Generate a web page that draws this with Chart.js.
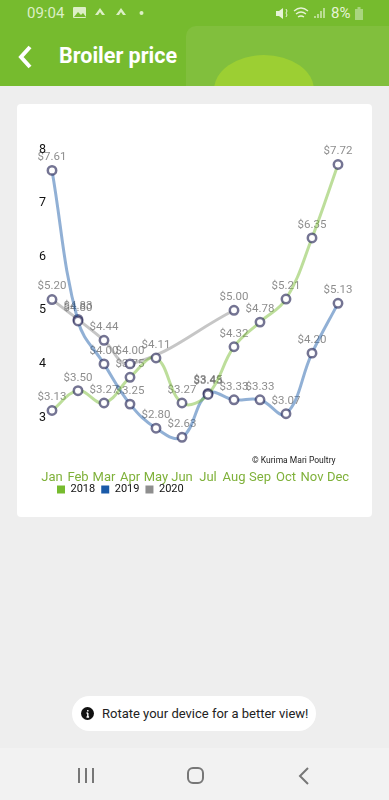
<!DOCTYPE html>
<html>
<head>
<meta charset="utf-8">
<title>Broiler price</title>
<script src="https://cdn.jsdelivr.net/npm/chart.js@4"></script>
<style>
  html, body { margin: 0; padding: 0; }
  body { width: 389px; height: 800px; background: #eeeeee; position: relative; overflow: hidden; font-family: Roboto, sans-serif; }
  #header { position: absolute; left: 0; top: 0; width: 389px; height: 86px; background: #76bb2e; overflow: hidden; }
  #panel { position: absolute; left: 186px; top: 26px; width: 240px; height: 80px; background: #81bf3d; border-top-left-radius: 10px; }
  #blob { position: absolute; left: 214px; top: 55px; width: 100px; height: 70px; border-radius: 50%; background: #9ccf33; }
  #time { position: absolute; left: 27px; top: 4px; font-size: 15px; color: #dcefc6; }
  #battery { position: absolute; left: 331px; top: 4px; font-size: 15px; color: #e6f3d6; }
  #title { position: absolute; left: 59px; top: 43px; font-size: 21.5px; font-weight: 700; color: #fff; }
  #card { position: absolute; left: 17px; top: 104px; width: 355px; height: 413px; background: #fff; border-radius: 4px; }
  #chart { position: absolute; left: 0; top: 0; }
  #credit { position: absolute; left: 235px; top: 351px; font-size: 8.5px; color: #222; }
  #toast { position: absolute; left: 72px; top: 696px; width: 244px; height: 35px; background: #fff; border-radius: 18px; font-size: 13px; line-height: 35px; color: #222; }
  #toast span { position: absolute; left: 30px; white-space: nowrap; }
  #nav { position: absolute; left: 0; top: 748px; width: 389px; height: 52px; background: #f2f2f2; }
  svg { position: absolute; overflow: visible; }
</style>
</head>
<body>
<div id="header">
  <div id="panel"></div>
  <div id="blob"></div>
  <div id="time">09:04</div>
  <svg style="left:73px;top:7px" width="14" height="12"><rect width="13" height="11" rx="1" fill="#dcefc6"/><path d="M1 10l4-5 3 3 2-2 3 4z" fill="#76bb2e"/></svg>
  <svg style="left:95px;top:7px" width="12" height="13"><path d="M5 1l5 7H7l-2-3-2 3H0z" fill="#dcefc6"/></svg>
  <svg style="left:116px;top:7px" width="12" height="13"><path d="M5 1l5 7H7l-2-3-2 3H0z" fill="#dcefc6"/></svg>
  <svg style="left:139px;top:11px" width="5" height="5"><circle cx="2.5" cy="2" r="2" fill="#dcefc6"/></svg>
  <svg style="left:275px;top:7px" width="14" height="13"><path d="M1 4h3l4-3v11L4 9H1z" fill="#e6f3d6"/><path d="M11 2l1 2-1 2 1 2-1 2" stroke="#e6f3d6" fill="none"/></svg>
  <svg style="left:293px;top:6px" width="18" height="14"><path d="M1 5q7-6 14 0M3 8q5-4 10 0M5 11q3-2 6 0" stroke="#e6f3d6" stroke-width="1.3" fill="none"/></svg>
  <svg style="left:314px;top:8px" width="12" height="11"><path d="M1 10V8M4 10V6M7 10V3M10 10V0" stroke="#e6f3d6" stroke-width="1.2"/></svg>
  <div id="battery">8%</div>
  <svg style="left:355px;top:7px" width="9" height="13"><rect y="2" width="8" height="11" fill="#a9d57f"/><rect x="2.5" width="3" height="2" fill="#a9d57f"/></svg>
  <svg style="left:17px;top:45px" width="16" height="24"><path d="M13 2L4 12l9 10" stroke="#fff" stroke-width="4" fill="none"/></svg>
  <div id="title">Broiler price</div>
</div>

<div id="card">
  <canvas id="chart" width="355" height="413"></canvas>
  <div id="credit">© Kurima Mari Poultry</div>
</div>

<div id="toast">
  <svg style="left:9px;top:11px" width="13" height="13"><circle cx="6.5" cy="6.5" r="6.5" fill="#111"/><path d="M6.8 3v1.4M6.8 6v4M5.5 6h1.3M5.5 10h2.6" stroke="#fff" stroke-width="1.4" fill="none"/></svg>
  <span>Rotate your device for a better view!</span>
</div>

<div id="nav">
  <svg style="left:78px;top:20px" width="16" height="16"><path d="M1 0v15M8 0v15M15 0v15" stroke="#777" stroke-width="2" fill="none"/></svg>
  <svg style="left:187px;top:19px" width="16" height="16"><rect x="1" y="1" width="15" height="15" rx="5" stroke="#777" stroke-width="2" fill="none"/></svg>
  <svg style="left:299px;top:20px" width="10" height="16"><path d="M9 0L1 8l8 8" stroke="#777" stroke-width="2" fill="none"/></svg>
</div>

<script>
var months = ['Jan', 'Feb', 'Mar', 'Apr', 'May', 'Jun', 'Jul', 'Aug', 'Sep', 'Oct', 'Nov', 'Dec']
var prices2018 = [3.13, 3.50, 3.27, 3.75, 4.11, 3.27, 3.43, 4.32, 4.78, 5.21, 6.35, 7.72]
var prices2019 = [7.61, 4.80, 4.00, 3.25, 2.80, 2.63, 3.45, 3.33, 3.33, 3.07, 4.20, 5.13]
var prices2020 = [5.20, 4.83, 4.44, 4.00, null, null, null, 5.00, null, null, null, null]

var markerColor = 'rgba(30, 30, 80, 0.62)'

function series(label, data, solid, line) {
  return {
    label: label,
    data: data,
    backgroundColor: solid,
    borderColor: line,
    borderWidth: 3,
    tension: 0.4,
    spanGaps: true,
    fill: false,
    pointRadius: 4.2,
    pointBorderWidth: 2.5,
    pointBackgroundColor: '#fff',
    pointBorderColor: markerColor
  }
}

// price text goes under the markers, the app has it that way
var priceLabels = {
  id: 'priceLabels',
  beforeDatasetsDraw: function (chart) {
    var ctx = chart.ctx
    ctx.save()
    ctx.font = '11.5px Roboto'
    ctx.fillStyle = 'rgba(80, 80, 80, 0.65)'
    ctx.textAlign = 'center'
    ctx.textBaseline = 'middle'
    chart.data.datasets.forEach(function (ds, i) {
      chart.getDatasetMeta(i).data.forEach(function (pt, j) {
        if (ds.data[j] === null) return
        ctx.fillText('$' + ds.data[j].toFixed(2), pt.x, pt.y - 13)
      })
    })
    ctx.restore()
  }
}

// legend sits in from the left of the plot and tight under the months
var legendShift = {
  id: 'legendShift',
  afterLayout: function (chart) {
    chart.legend.left += 12
    chart.legend.top -= 9
  }
}

new Chart(document.getElementById('chart'), {
  type: 'line',
  data: {
    labels: months,
    datasets: [
      series('2018', prices2018, '#76bb2e', 'rgba(118, 187, 46, 0.48)'),
      series('2019', prices2019, '#1a5aa8', 'rgba(26, 90, 168, 0.48)'),
      series('2020', prices2020, '#8e8e8e', 'rgba(142, 142, 142, 0.5)')
    ]
  },
  options: {
    responsive: false,
    animation: false,
    layout: { padding: { left: 22, right: 21, top: 45.5, bottom: 3 } },
    scales: {
      x: {
        offset: true,
        grid: { display: false, drawTicks: false },
        border: { display: false },
        ticks: { color: '#7fb13a', font: { family: 'Roboto', size: 13 }, autoSkip: false, maxRotation: 0, padding: 1.5 }
      },
      y: {
        min: 2.05,
        max: 8,
        grid: { display: false },
        border: { display: false },
        afterFit: function (axis) { axis.width = 0 },
        ticks: {
          mirror: true,
          stepSize: 1,
          padding: 0,
          color: '#111',
          font: { family: 'Roboto', size: 12.5 },
          callback: function (v) { return v < 3 ? '' : v }
        }
      }
    },
    plugins: {
      tooltip: { enabled: false },
      legend: {
        position: 'bottom',
        align: 'start',
        labels: {
          boxWidth: 8,
          boxHeight: 8,
          padding: 6,
          color: '#111',
          font: { family: 'Roboto', size: 11 },
          generateLabels: function (chart) {
            return Chart.defaults.plugins.legend.labels.generateLabels(chart).map(function (item) {
              item.lineWidth = 0
              item.strokeStyle = 'transparent'
              return item
            })
          }
        }
      }
    }
  },
  plugins: [priceLabels, legendShift]
})
</script>
</body>
</html>
